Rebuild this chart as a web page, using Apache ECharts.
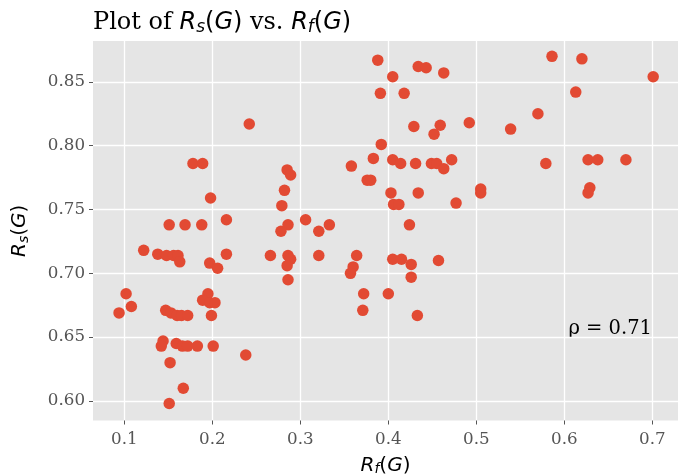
<!DOCTYPE html>
<html><head><meta charset="utf-8">
<script src="https://cdn.jsdelivr.net/npm/echarts@6/dist/echarts.min.js"></script>
<style>html,body{margin:0;padding:0;background:#fff}#c{width:678px;height:476px}</style>
</head><body><div id="c"></div>
<script>
// R_f(G) values (x)
const rfValues = [
  0.178,0.189,0.198,0.151,0.169,0.188,0.216,0.122,0.138,0.148,
  0.156,0.161,0.163,0.197,0.206,0.216,0.266,0.102,0.108,0.094,
  0.195,0.189,0.197,0.203,0.199,0.147,0.153,0.160,0.165,0.172,
  0.144,0.142,0.159,0.166,0.172,0.183,0.201,0.238,0.152,0.167,
  0.151,
  0.242,0.392,0.383,0.358,0.405,0.414,0.285,0.289,0.376,0.380,
  0.282,0.403,0.279,0.406,0.412,0.306,0.286,0.278,0.321,0.333,
  0.286,0.289,0.285,0.321,0.286,0.364,0.360,0.357,0.372,0.400,
  0.371,0.405,0.415,0.424,0.426,0.426,0.433,0.457,
  0.388,0.405,0.434,0.443,0.463,0.391,0.418,0.429,0.459,0.452,
  0.492,0.431,0.449,0.455,0.463,0.472,0.434,0.477,0.505,0.505,
  0.586,0.620,0.701,0.613,0.570,0.539,0.579,0.627,0.638,0.670,
  0.629,0.627
];
// R_s(G) values (y)
const rsValues = [
  0.786,0.786,0.759,0.738,0.738,0.738,0.742,0.718,0.715,0.714,
  0.714,0.714,0.709,0.708,0.704,0.715,0.714,0.684,0.674,0.669,
  0.684,0.679,0.677,0.677,0.667,0.671,0.669,0.667,0.667,0.667,
  0.647,0.643,0.645,0.643,0.643,0.643,0.643,0.636,0.630,0.610,
  0.598,
  0.817,0.801,0.790,0.784,0.789,0.786,0.781,0.777,0.773,0.773,
  0.765,0.763,0.753,0.754,0.754,0.742,0.738,0.733,0.733,0.738,
  0.714,0.711,0.706,0.714,0.695,0.714,0.705,0.700,0.684,0.684,
  0.671,0.711,0.711,0.738,0.707,0.697,0.667,0.710,
  0.867,0.854,0.862,0.861,0.857,0.841,0.841,0.815,0.816,0.809,
  0.818,0.786,0.786,0.786,0.782,0.789,0.763,0.755,0.766,0.763,
  0.870,0.868,0.854,0.842,0.825,0.813,0.786,0.789,0.789,0.789,
  0.767,0.763
];
const xTicks = [0.1,0.2,0.3,0.4,0.5,0.6,0.7];
const yTicks = [0.60,0.65,0.70,0.75,0.80,0.85];
const rhoText = 'ρ = 0.71';

const points = rfValues.map((x,i)=>[x, rsValues[i]]);
const SERIF = 'DejaVu Serif';
const SANS = 'DejaVu Sans';
function mathRich(size, subSize, subPad){
  return {
    t:{fontFamily:SERIF,fontSize:size,fontWeight:'normal',color:'#000'},
    m:{fontFamily:SANS,fontStyle:'italic',fontWeight:'normal',fontSize:size,color:'#000'},
    u:{fontFamily:SANS,fontWeight:'normal',fontSize:size,color:'#000'},
    s:{fontFamily:SANS,fontStyle:'italic',fontWeight:'normal',fontSize:subSize,color:'#000',padding:[subPad,0,0,0]}
  };
}
const chart = echarts.init(document.getElementById('c'), null, {renderer:'canvas'});
chart.setOption({
  animation:false,
  backgroundColor:'#fff',
  title:{
    text:'{t|Plot of }{m|R}{s|s}{u|(}{m|G}{u|)}{t| vs. }{m|R}{s|f}{u|(}{m|G}{u|)}',
    left:88, top:4,
    textStyle:{fontWeight:'normal',rich:mathRich(24,17,10)}
  },
  grid:{left:93,right:0,top:41,bottom:55.5,show:true,backgroundColor:'#E5E5E5',borderWidth:0,outerBoundsMode:'none',containLabel:false},
  xAxis:{
    type:'value', min:0.0644, max:0.7292,
    name:'{m|R}{s|f}{u|(}{m|G}{u|)}', nameLocation:'middle', nameGap:34,
    nameTextStyle:{rich:mathRich(20,14,8)},
    axisLine:{show:false},
    axisTick:{show:true,customValues:xTicks,length:4,lineStyle:{color:'#555',width:1}},
    axisLabel:{customValues:xTicks,formatter:v=>v.toFixed(1),color:'#555',fontFamily:SERIF,fontSize:16.7,margin:11},
    splitLine:{show:true,customValues:xTicks,lineStyle:{color:'#fff',width:1.3}}
  },
  yAxis:{
    type:'value', min:0.5847, max:0.8820,
    name:'{m|R}{s|s}{u|(}{m|G}{u|)}', nameLocation:'middle', nameGap:62, nameRotate:90,
    nameTextStyle:{rich:mathRich(20,14,8)},
    axisLine:{show:false},
    axisTick:{show:true,customValues:yTicks,length:4,lineStyle:{color:'#555',width:1}},
    axisLabel:{customValues:yTicks,formatter:v=>v.toFixed(2),color:'#555',fontFamily:SERIF,fontSize:16.7,margin:8},
    splitLine:{show:true,customValues:yTicks,lineStyle:{color:'#fff',width:1.3}}
  },
  graphic:[{
    type:'text', right:26, top:319,
    style:{text:rhoText,fontFamily:SERIF,fontSize:19.5,fill:'#000'}
  }],
  series:[{
    type:'scatter', data:points, symbol:'circle', symbolSize:11.5,
    itemStyle:{color:'#E24A33',opacity:1}
  }]
});
</script>
</body></html>
